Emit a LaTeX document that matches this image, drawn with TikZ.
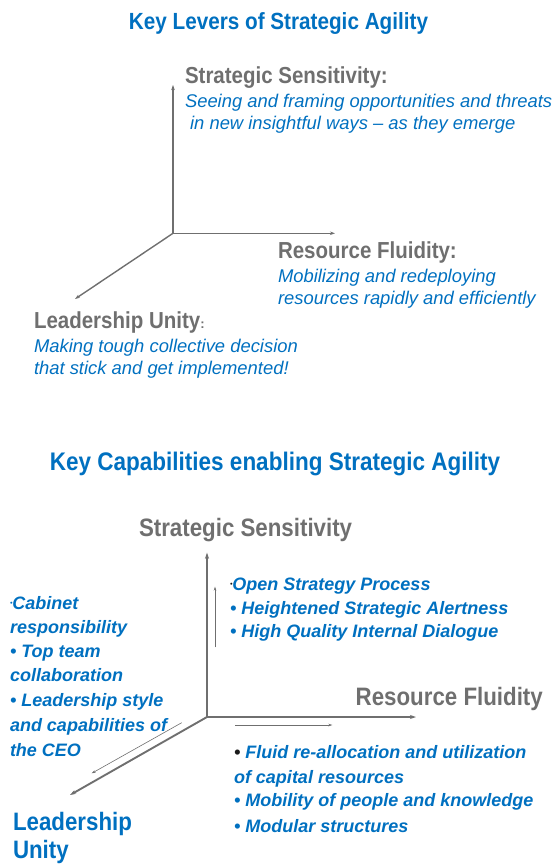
\documentclass[tikz,border=0pt]{standalone}
\usepackage{fontspec}
\usepackage{graphicx}
\setmainfont{Liberation Sans}
\usetikzlibrary{arrows.meta}
\definecolor{tblue}{HTML}{0070C0}
\definecolor{tgray}{HTML}{6F6F6F}
\definecolor{dotdark}{HTML}{1A1A1A}
\newcommand\tallbold[1]{\scalebox{1}[1.13]{#1}}
\newcommand\smalldot[1][tblue]{{\color{#1}\fontsize{7}{9}\selectfont\raisebox{3.2pt}{•}}}
\tikzset{
  axisline/.style={draw=tgray, line width=1.4pt, -{Stealth[length=5pt,width=3.5pt]}},
  axislineB/.style={draw=tgray, line width=1.9pt, -{Stealth[length=6pt,width=4pt]}},
  thinarrow/.style={draw=tgray, line width=0.6pt, -{Stealth[length=4pt,width=2.6pt]}},
  txt/.style={anchor=base west, inner sep=0pt, outer sep=0pt},
  title/.style={anchor=base, inner sep=0pt, text=tblue, font=\bfseries\fontsize{20.7}{24}\selectfont},
  titleB/.style={anchor=base, inner sep=0pt, text=tblue, font=\bfseries\fontsize{22.5}{26}\selectfont},
  glabel/.style={txt, text=tgray, font=\bfseries\fontsize{20.5}{24}\selectfont},
  glabelB/.style={txt, text=tgray, font=\bfseries\fontsize{22.3}{26}\selectfont},
  desc/.style={txt, text=tblue, font=\itshape\fontsize{18.4}{22}\selectfont},
  item/.style={txt, text=tblue, font=\bfseries\itshape\fontsize{18}{22}\selectfont},
  bluelabel/.style={txt, text=tblue, font=\bfseries\fontsize{22.3}{26}\selectfont},
}
\begin{document}
\begin{tikzpicture}[x=1pt,y=-1pt]
\useasboundingbox (0,0) rectangle (555,864);
% ---------- top diagram ----------
\node[title] (t1) at (278.5,30) {\tallbold{Key Levers of Strategic Agility}};
\coordinate (o1) at (173,233.3);
\coordinate (y1) at (173,85);
\coordinate (x1) at (335,233.3);
\coordinate (z1) at (75,299);
\draw[axisline] (o1) -- (y1);
\draw[axisline] (o1) -- (x1);
\draw[axisline] (o1) -- (z1);
\node[glabel] (ss1) at (185,83.3) {\tallbold{Strategic Sensitivity:}};
\node[desc] (ss1a) at (185,107.7) {Seeing and framing opportunities and threats};
\node[desc] (ss1b) at (185,129.3) {\ in new insightful ways – as they emerge};
\node[glabel] (rf1) at (278,258.3) {\tallbold{Resource Fluidity:}};
\node[desc] (rf1a) at (278,282.7) {Mobilizing and redeploying};
\node[desc] (rf1b) at (278,304) {resources rapidly and efficiently};
\node[glabel] (lu1) at (34,328.3) {\tallbold{Leadership Unity}{\fontsize{13}{15}\selectfont:}};
\node[desc] (lu1a) at (34,352.3) {Making tough collective decision};
\node[desc] (lu1b) at (34,374.3) {that stick and get implemented!};
% ---------- bottom diagram ----------
\node[titleB] (t2) at (275,470) {\tallbold{Key Capabilities enabling Strategic Agility}};
\node[glabelB] (ss2) at (139,536.7) {\tallbold{Strategic Sensitivity}};
\coordinate (o2) at (207,717);
\coordinate (y2) at (207,552.7);
\coordinate (x2) at (416,717);
\coordinate (z2) at (70,795);
\draw[axislineB] (o2) -- (y2);
\draw[axislineB] (o2) -- (x2);
\draw[axislineB] (o2) -- (z2);
\coordinate (ya) at (215,647.3);
\coordinate (yb) at (215,586.7);
\coordinate (xa) at (235,725);
\coordinate (xb) at (332.3,725);
\coordinate (za) at (181.7,722.7);
\coordinate (zb) at (91.7,773.3);
\draw[thinarrow] (ya) -- (yb);
\draw[thinarrow] (xa) -- (xb);
\draw[thinarrow] (za) -- (zb);
\node[glabelB] (rf2) at (355.7,705.7) {\tallbold{Resource Fluidity}};
\node[item] (r1) at (230,590) {\smalldot[dotdark]Open Strategy Process};
\node[item] (r2) at (230,614.3) {• Heightened Strategic Alertness};
\node[item] (r3) at (230,637.7) {• High Quality Internal Dialogue};
\node[item] (l1) at (10,609) {\smalldot Cabinet};
\node[item] (l2) at (10,633.3) {responsibility};
\node[item] (l3) at (10,657.7) {• Top team};
\node[item] (l4) at (10,681.7) {collaboration};
\node[item] (l5) at (10,706.7) {• Leadership style};
\node[item] (l6) at (10,731) {and capabilities of};
\node[item] (l7) at (10,756.7) {the CEO};
\node[item] (b1) at (234,758.3) {{\color{dotdark}•} Fluid re-allocation and utilization};
\node[item] (b2) at (234,783.3) {of capital resources};
\node[item] (b3) at (234,806.7) {• Mobility of people and knowledge};
\node[item] (b4) at (234,832.3) {• Modular structures};
\node[bluelabel] (lu2) at (13,830) {\tallbold{Leadership}};
\node[bluelabel] (lu2b) at (13,858.3) {\tallbold{Unity}};
\end{tikzpicture}
\end{document}
